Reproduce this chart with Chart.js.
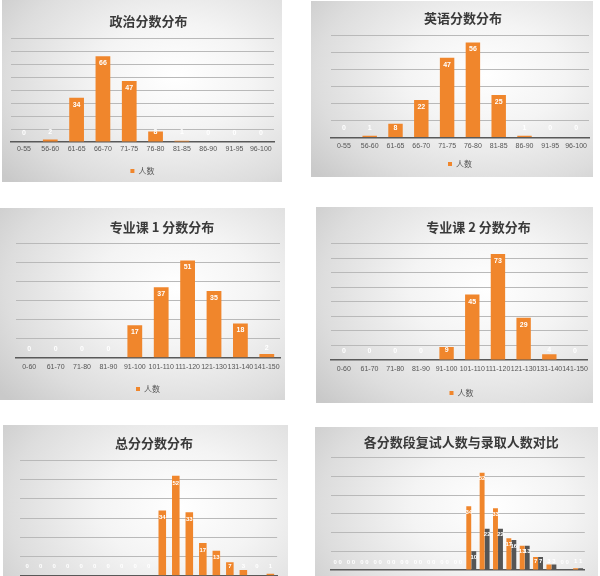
<!DOCTYPE html>
<html>
<head>
<meta charset="UTF-8">
<title>分数分布</title>
<script src="https://cdn.jsdelivr.net/npm/chart.js@4.4.1/dist/chart.umd.min.js"></script>
<style>
    html, body {
        margin: 0;
        padding: 0;
        width: 600px;
        height: 576px;
        overflow: hidden;
        background: #ffffff;
    }
    .panel {
        position: absolute;
        overflow: visible;
        background: radial-gradient(ellipse 80% 85% at 62% 42%, #ffffff 0%, #f4f4f4 35%, #dddddd 75%, #c9c9c9 100%);
    }
    .panel canvas {
        position: absolute;
        left: 0;
        top: 0;
    }
</style>
</head>
<body>

<div class="panel" id="p1"><canvas id="c1"></canvas></div>
<div class="panel" id="p2"><canvas id="c2"></canvas></div>
<div class="panel" id="p3"><canvas id="c3"></canvas></div>
<div class="panel" id="p4"><canvas id="c4"></canvas></div>
<div class="panel" id="p5"><canvas id="c5"></canvas></div>
<div class="panel" id="p6"><canvas id="c6"></canvas></div>

<script>

    // ---- data ----
    var scoreLabels100 = ['0-55', '56-60', '61-65', '66-70', '71-75', '76-80', '81-85', '86-90', '91-95', '96-100'];
    var politicsCounts = [0, 2, 34, 66, 47, 8, 1, 0, 0, 0];
    var englishCounts  = [0, 1, 8, 22, 47, 56, 25, 1, 0, 0];

    var scoreLabels150 = ['0-60', '61-70', '71-80', '81-90', '91-100', '101-110', '111-120', '121-130', '131-140', '141-150'];
    var major1Counts = [0, 0, 0, 0, 17, 37, 51, 35, 18, 2];
    var major2Counts = [0, 0, 0, 0, 9, 45, 73, 29, 4, 0];

    var totalLabels = ['0-300', '301-310', '311-320', '321-330', '331-340', '341-350', '351-360', '361-370', '371-380', '381-390',
                       '391-400', '401-410', '411-420', '421-430', '431-440', '441-450', '451-460', '461-470', '471-480'];
    var totalCounts  = [0, 0, 0, 0, 0, 0, 0, 0, 0, 0, 34, 52, 33, 17, 13, 7, 3, 0, 1];
    var retestCounts = [0, 0, 0, 0, 0, 0, 0, 0, 0, 0, 34, 52, 33, 17, 13, 7, 3, 0, 1];
    var admitCounts  = [0, 0, 0, 0, 0, 0, 0, 0, 0, 0, 10, 22, 22, 16, 13, 7, 3, 0, 1];

    var ORANGE = '#F0862C';
    var GREY = '#555555';

    // white value labels inside the bar top
    var barLabels = {
        id: 'barLabels',
        afterDatasetsDraw: function (chart, args, opts) {
            var ctx = chart.ctx;
            ctx.save();
            ctx.font = 'bold ' + opts.size + 'px "Liberation Sans", Arial, sans-serif';
            ctx.fillStyle = '#ffffff';
            ctx.textAlign = 'center';
            ctx.textBaseline = 'middle';
            chart.data.datasets.forEach(function (ds, i) {
                chart.getDatasetMeta(i).data.forEach(function (bar, j) {
                    var y = Math.min(bar.y + opts.inset, bar.base - opts.lift);
                    ctx.fillText(ds.data[j], bar.x, y);
                });
            });
            ctx.restore();
        }
    };

    // nudge the title sideways (the originals are not exactly centred)
    var titleShift = {
        id: 'titleShift',
        afterLayout: function (chart, args, opts) {
            var t = chart.titleBlock;
            if (t && opts.dx) {
                t.left += opts.dx;
                t.right += opts.dx;
            }
        }
    };

    function makeChart(id, panel, lay, title, labels, datasets, yMax, labelOpts) {

        var p = document.getElementById('p' + id);
        p.style.left = panel.x + 'px';
        p.style.top = panel.y + 'px';
        p.style.width = panel.w + 'px';
        p.style.height = panel.h + 'px';

        // chart.js puts the tick padding above and below the labels
        var tickPad = lay.tick - lay.base - 4.2;
        var axisBottom = lay.base + 2 * tickPad + 8.4;
        var legendPad = lay.legend - axisBottom - 4;
        var canvasH = lay.legend + 14;

        var c = document.getElementById('c' + id);
        c.width = panel.w;
        c.height = Math.round(canvasH);

        return new Chart(c, {
            type: 'bar',
            data: { labels: labels, datasets: datasets },
            plugins: [barLabels, titleShift],
            options: {
                responsive: false,
                animation: false,
                layout: {
                    padding: { left: lay.plotL, right: panel.w - lay.plotR, top: 0, bottom: 0 }
                },
                plugins: {
                    title: {
                        display: true,
                        text: title,
                        color: '#3a3a3a',
                        font: { family: '"Noto Sans CJK SC", sans-serif', size: 13, weight: 'bold' },
                        padding: { top: lay.title - 7.8, bottom: lay.top - lay.title - 7.8 }
                    },
                    legend: {
                        position: 'bottom',
                        labels: {
                            boxWidth: 4,
                            boxHeight: 4,
                            padding: legendPad,
                            color: '#555555',
                            font: { family: '"Noto Sans CJK SC", sans-serif', size: 8 }
                        }
                    },
                    tooltip: { enabled: false },
                    barLabels: labelOpts,
                    titleShift: { dx: lay.dx }
                },
                scales: {
                    x: {
                        grid: { display: false, drawTicks: false },
                        border: { display: true, color: '#595959', width: 1.5 },
                        ticks: {
                            padding: tickPad,
                            color: '#555555',
                            maxRotation: 0,
                            minRotation: 0,
                            autoSkip: false,
                            font: { family: '"Liberation Sans", Arial, sans-serif', size: 7 }
                        }
                    },
                    y: {
                        min: 0,
                        max: yMax,
                        border: { display: false },
                        grid: {
                            drawTicks: false,
                            lineWidth: 1,
                            color: function (c) { return c.tick.value === 0 ? 'rgba(0,0,0,0)' : '#b9b9b9'; }
                        },
                        ticks: { display: false, stepSize: 10 }
                    }
                }
            }
        });
    }

    function single(label, values) {
        return [{ label: label, data: values, backgroundColor: ORANGE, barPercentage: 0.56, categoryPercentage: 1.0 }];
    }

    var bigLabels = { size: 7, inset: 7, lift: 9 };

    makeChart(1, { x: 2, y: 0, w: 280, h: 182 },
        { plotL: 8.8, plotR: 272, title: 21, top: 38, base: 142, tick: 149.5, legend: 171, dx: 6 },
        '政治分数分布', scoreLabels100, single('人数', politicsCounts), 80, bigLabels);

    makeChart(2, { x: 311, y: 1, w: 282, h: 176 },
        { plotL: 20, plotR: 278, title: 17.3, top: 34.7, base: 136.7, tick: 145.7, legend: 163.3, dx: 3 },
        '英语分数分布', scoreLabels100, single('人数', englishCounts), 60, bigLabels);

    makeChart(3, { x: 0, y: 208, w: 285, h: 192 },
        { plotL: 16, plotR: 280, title: 19, top: 35.3, base: 149.7, tick: 158.7, legend: 181, dx: 14 },
        '专业课 1 分数分布', scoreLabels150, single('人数', major1Counts), 60, bigLabels);

    makeChart(4, { x: 316, y: 207, w: 277, h: 196 },
        { plotL: 15, plotR: 276, title: 20, top: 36.7, base: 153, tick: 162.3, legend: 186, dx: 17 },
        '专业课 2 分数分布', scoreLabels150, single('人数', major2Counts), 80, bigLabels);

    makeChart(5, { x: 3, y: 425, w: 285, h: 195 },
        { plotL: 17.4, plotR: 278.6, title: 18, top: 35.5, base: 150.7, tick: 159.5, legend: 181, dx: 3 },
        '总分分数分布', totalLabels, single('人数', totalCounts), 60, { size: 6, inset: 7, lift: 9 });

    makeChart(6, { x: 315, y: 427, w: 283, h: 190 },
        { plotL: 16, plotR: 274.5, title: 15, top: 30.7, base: 143, tick: 154, legend: 177, dx: 1 },
        '各分数段复试人数与录取人数对比', totalLabels, [
            { label: '复试人数', data: retestCounts, backgroundColor: ORANGE, barPercentage: 0.98, categoryPercentage: 0.75 },
            { label: '录取人数', data: admitCounts, backgroundColor: GREY, barPercentage: 0.98, categoryPercentage: 0.75 }
        ], 60, { size: 6, inset: 6, lift: 8 });

</script>
</body>
</html>
